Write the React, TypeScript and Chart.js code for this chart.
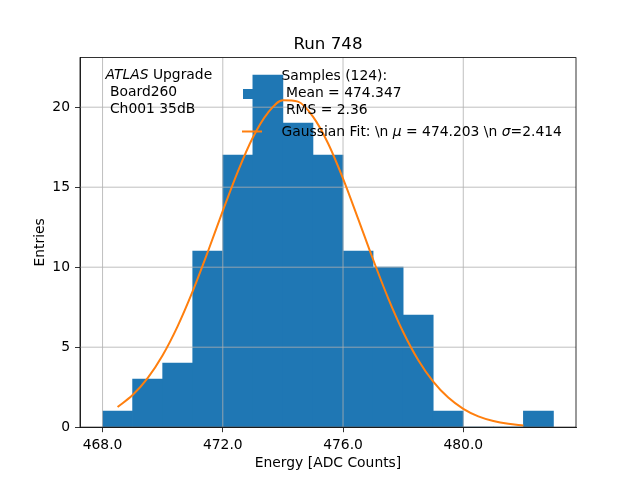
import React, { useEffect, useRef } from "react";
import { Chart, registerables } from "chart.js";

Chart.register(...registerables);

const binCenters = [468.5, 469.5, 470.5, 471.5, 472.5, 473.5, 474.5, 475.5, 476.5, 477.5, 478.5, 479.5, 480.5, 481.5, 482.5];
const binCounts = [1, 3, 4, 11, 17, 22, 19, 17, 11, 10, 7, 1, 0, 0, 1];

const fitX = [468.5, 469.0, 469.5, 470.0, 470.5, 471.0, 471.5, 472.0, 472.5, 473.0, 473.5, 474.0, 474.5, 475.0, 475.5, 476.0, 476.5, 477.0, 477.5, 478.0, 478.5, 479.0, 479.5, 480.0, 480.5, 481.0, 481.5, 482.0];
const fitY = [1.26, 2.01, 3.07, 4.5, 6.32, 8.5, 10.95, 13.52, 15.98, 18.11, 19.65, 20.43, 20.35, 19.41, 17.75, 15.54, 13.04, 10.48, 8.07, 5.95, 4.2, 2.85, 1.85, 1.15, 0.68, 0.39, 0.21, 0.11];

const xTicks = [468, 472, 476, 480];
const yTicks = [0, 5, 10, 15, 20];

const titleText = "Run 748";
const xLabel = "Energy [ADC Counts]";
const yLabel = "Entries";
const atlasLines = [" Board260", " Ch001 35dB"];
const histLegendLines = ["Samples (124):", " Mean = 474.347", " RMS = 2.36"];

const FONT = '"DejaVu Sans", sans-serif';
const FS = 13.89;
const BLUE = "#1f77b4";
const ORANGE = "#ff7f0e";

const customPlugin = {
  id: "mplExtras",
  afterDatasetDraw(chart: any, args: any) {
    if (args.index !== 0) return;
    const { ctx, chartArea } = chart;
    const xs = chart.scales.x;
    const ys = chart.scales.y;
    ctx.save();
    ctx.beginPath();
    ctx.rect(chartArea.left, chartArea.top, chartArea.right - chartArea.left, chartArea.bottom - chartArea.top);
    ctx.clip();
    ctx.strokeStyle = "#b0b0b0";
    ctx.lineWidth = 0.8;
    for (const v of xTicks) {
      const px = xs.getPixelForValue(v);
      ctx.beginPath();
      ctx.moveTo(px, chartArea.top);
      ctx.lineTo(px, chartArea.bottom);
      ctx.stroke();
    }
    for (const v of yTicks) {
      const py = ys.getPixelForValue(v);
      ctx.beginPath();
      ctx.moveTo(chartArea.left, py);
      ctx.lineTo(chartArea.right, py);
      ctx.stroke();
    }
    ctx.restore();
  },
  afterDraw(chart: any) {
    const { ctx, chartArea } = chart;
    ctx.save();
    ctx.strokeStyle = "#000";
    ctx.lineWidth = 0.8;
    ctx.strokeRect(chartArea.left, chartArea.top, chartArea.right - chartArea.left, chartArea.bottom - chartArea.top);

    ctx.fillStyle = "#000";
    ctx.textBaseline = "middle";
    const cx = (chartArea.left + chartArea.right) / 2;
    const cy = (chartArea.top + chartArea.bottom) / 2;

    ctx.textAlign = "center";
    ctx.font = `16.67px ${FONT}`;
    ctx.fillText(titleText, cx, 45);

    ctx.font = `${FS}px ${FONT}`;
    ctx.fillText(xLabel, cx, 463);
    ctx.save();
    ctx.translate(40, cy);
    ctx.rotate(-Math.PI / 2);
    ctx.fillText(yLabel, 0, 0);
    ctx.restore();

    ctx.textAlign = "left";
    const ax = 105.5;
    ctx.font = `italic ${FS}px ${FONT}`;
    ctx.fillText("ATLAS", ax, 75.5);
    const w = ctx.measureText("ATLAS").width;
    ctx.font = `${FS}px ${FONT}`;
    ctx.fillText(" Upgrade", ax + w, 75.5);
    atlasLines.forEach((t, i) => ctx.fillText(t, ax, 92.5 + i * 16.7));

    ctx.fillStyle = BLUE;
    ctx.fillRect(243, 89, 20, 10);
    ctx.strokeStyle = ORANGE;
    ctx.lineWidth = 2;
    ctx.beginPath();
    ctx.moveTo(242, 131.5);
    ctx.lineTo(262, 131.5);
    ctx.stroke();

    ctx.fillStyle = "#000";
    const lx = 281.5;
    histLegendLines.forEach((t, i) => ctx.fillText(t, lx, 76.5 + i * 16.7));
    const segs: [string, boolean][] = [
      ["Gaussian Fit: \\n ", false],
      ["\u03bc", true],
      [" = 474.203 \\n ", false],
      ["\u03c3", true],
      ["=2.414", false],
    ];
    let px = lx;
    for (const [t, it] of segs) {
      ctx.font = `${it ? "italic " : ""}${FS}px ${FONT}`;
      ctx.fillText(t, px, 132);
      px += ctx.measureText(t).width;
    }
    ctx.restore();
  },
};

export default function App() {
  const ref = useRef<HTMLCanvasElement | null>(null);
  useEffect(() => {
    document.body.style.margin = "0";
    if (!ref.current) return;
    const chart = new Chart(ref.current, {
      type: "bar",
      data: {
        datasets: [
          {
            type: "bar",
            data: binCenters.map((x, i) => ({ x, y: binCounts[i] })),
            backgroundColor: BLUE,
            borderWidth: 0,
            barPercentage: 1,
            categoryPercentage: 1,
            order: 1,
          } as any,
          {
            type: "line",
            data: fitX.map((x, i) => ({ x, y: fitY[i] })),
            borderColor: ORANGE,
            borderWidth: 2,
            pointRadius: 0,
            cubicInterpolationMode: "monotone",
            fill: false,
            order: 0,
          } as any,
        ],
      },
      options: {
        animation: false,
        responsive: false,
        devicePixelRatio: 1,
        layout: { padding: { top: 57.6, right: 64, left: 0, bottom: 0 } },
        plugins: { legend: { display: false }, tooltip: { enabled: false }, title: { display: false } },
        scales: {
          x: {
            type: "linear",
            min: 467.25,
            max: 483.75,
            offset: false,
            afterBuildTicks: (s: any) => {
              s.ticks = xTicks.map((v) => ({ value: v }));
            },
            afterFit: (s: any) => {
              s.height = 52.8;
            },
            grid: { drawOnChartArea: false, drawTicks: true, tickLength: 5, tickColor: "#000", tickWidth: 0.8, offset: false },
            border: { display: true, color: "#000", width: 0.8 },
            ticks: {
              padding: 5,
              color: "#000",
              maxRotation: 0,
              autoSkip: false,
              font: { family: "DejaVu Sans", size: FS },
              callback: (v: any) => Number(v).toFixed(1),
            },
          },
          y: {
            type: "linear",
            min: 0,
            max: 23.1,
            afterBuildTicks: (s: any) => {
              s.ticks = yTicks.map((v) => ({ value: v }));
            },
            afterFit: (s: any) => {
              s.width = 80;
            },
            grid: { drawOnChartArea: false, drawTicks: true, tickLength: 5, tickColor: "#000", tickWidth: 0.8 },
            border: { display: true, color: "#000", width: 0.8 },
            ticks: {
              padding: 5,
              color: "#000",
              autoSkip: false,
              font: { family: "DejaVu Sans", size: FS },
              callback: (v: any) => String(v),
            },
          },
        },
      },
      plugins: [customPlugin],
    });
    return () => chart.destroy();
  }, []);
  return (
    <div style={{ width: 640, height: 480, background: "#fff" }}>
      <canvas ref={ref} width={640} height={480} />
    </div>
  );
}
